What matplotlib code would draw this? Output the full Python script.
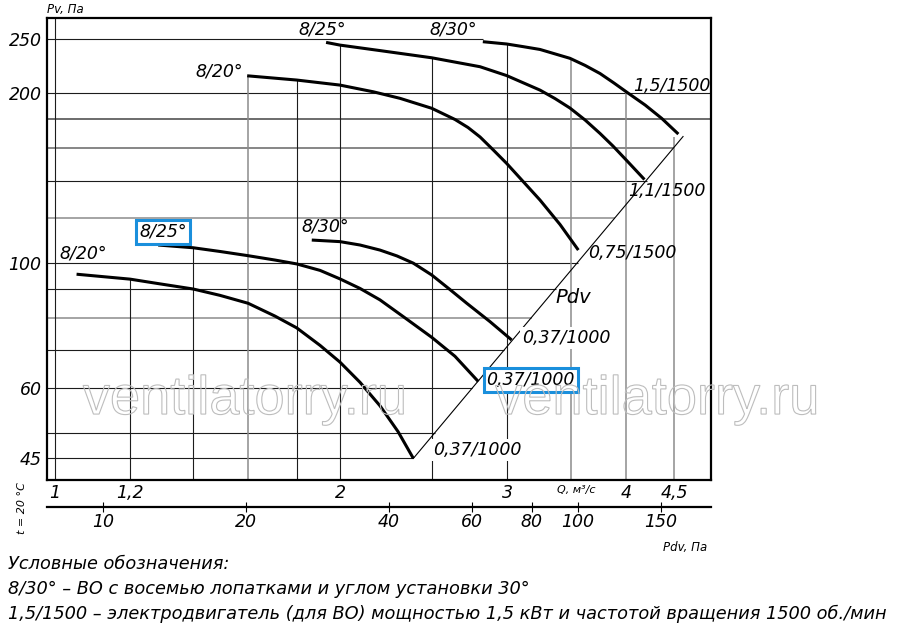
import matplotlib
matplotlib.use('Agg')
import matplotlib.pyplot as plt
import matplotlib.ticker as mticker
import matplotlib.patheffects as pe
import numpy as np

plt.rcParams['font.family'] = ['DejaVu Sans']
plt.rcParams['font.style'] = 'italic'

# ---------------- data (Q in m3/s, Pv in Pa) ----------------
q_820_low = [1.054, 1.200, 1.291, 1.399, 1.493, 1.599, 1.706, 1.799, 1.904, 1.998, 2.098, 2.202, 2.301, 2.388]
p_820_low = [95.5, 93.6, 91.8, 89.9, 87.6, 84.8, 80.5, 76.7, 71.4, 66.7, 61.4, 55.8, 50.2, 45.0]

q_825_low = [1.285, 1.399, 1.493, 1.599, 1.706, 1.799, 1.904, 1.998, 2.098, 2.202, 2.340, 2.497, 2.642, 2.796]
p_825_low = [107.6, 106.4, 104.8, 103.0, 101.2, 99.6, 97.0, 93.7, 90.1, 86.0, 79.9, 73.8, 68.3, 61.6]

q_830_low = [1.866, 1.998, 2.098, 2.202, 2.295, 2.388, 2.497, 2.610, 2.719, 2.876, 3.032]
p_830_low = [109.8, 109.1, 107.6, 105.4, 102.9, 99.9, 95.2, 89.7, 84.8, 78.7, 73.0]

q_820_hi = [1.595, 1.799, 1.998, 2.167, 2.312, 2.497, 2.642, 2.727, 2.808, 2.897, 2.995, 3.248, 3.410, 3.565]
p_820_hi = [214.8, 211.1, 206.8, 201.2, 195.9, 188.1, 179.7, 173.9, 167.3, 158.9, 150.2, 129.3, 117.0, 105.4]

q_825_hi = [1.932, 1.998, 2.202, 2.497, 2.808, 2.995, 3.248, 3.369, 3.493, 3.624, 3.758, 3.878, 4.010, 4.186]
p_825_hi = [246.2, 243.5, 238.1, 231.2, 222.9, 215.0, 202.6, 195.7, 188.3, 179.3, 169.7, 161.2, 151.9, 140.6]

q_830_hi = [2.827, 2.995, 3.116, 3.248, 3.493, 3.624, 3.758, 3.888, 4.025, 4.193, 4.365, 4.545]
p_830_hi = [246.9, 244.6, 242.0, 239.2, 230.7, 224.1, 216.8, 208.5, 200.0, 190.6, 180.5, 169.3]

angle_labels = ['8/20°', '8/25°', '8/30°', '8/20°', '8/25°', '8/30°']
motor_labels = ['0,37/1000', '0,37/1000', '0,37/1000', '0,75/1500', '1,1/1500', '1,5/1500']

# dynamic pressure line Pdv
pdv_q = [2.388, 4.597]
pdv_p = [45.0, 167.6]
K_PDV = 7.9  # Pdv = K * Q^2 (scale of the lower Pdv axis)

q_ticks = [1, 1.2, 2, 3, 4, 4.5]
q_tick_labels = ['1', '1,2', '2', '3', '4', '4,5']
p_ticks = [45, 60, 100, 200, 250]
p_tick_labels = ['45', '60', '100', '200', '250']
pdv_ticks = [10, 20, 40, 60, 80, 100, 150]
pdv_tick_labels = ['10', '20', '40', '60', '80', '100', '150']

# ---------------- figure ----------------
W, H = 900, 638
fig = plt.figure(figsize=(W / 100, H / 100), dpi=100)
ax = fig.add_axes([47 / W, 1 - 480 / H, 664 / W, 462 / H])
ax.set_xscale('log')
ax.set_yscale('log')
XLO, XHI = 0.981, 4.92
YLO, YHI = 41.2, 272.0
ax.set_xlim(XLO, XHI)
ax.set_ylim(YLO, YHI)

DARK = '#1c1c1c'
GRAY = '#8c8c8c'

# horizontal grid lines: value, right end (Q), colour
h_vals = [250, 200, 180, 160, 140, 120, 100, 90, 80, 70, 60, 50, 45]
h_ends = [q_830_hi[0], XHI, XHI] + [np.sqrt(v / K_PDV) for v in h_vals[3:]]
h_cols = [DARK, DARK, '#444444', '#666666', DARK, GRAY, DARK, DARK, GRAY, DARK, DARK, DARK, DARK]
h_lws = [0.8 if c == DARK else 1.1 for c in h_cols]
ax.hlines(h_vals, XLO, h_ends, colors=h_cols, linewidths=h_lws, zorder=1)

# vertical grid lines: value, top end (Pv), colour
v_vals = [1.0, 1.2, 1.4, 1.6, 1.8, 2.0, 2.5, 3.0, 3.5, 4.0, 4.5]
v_tops = [YHI, 93.6, 106.4, 214.8, 211.1, 243.5, 231.2, 244.6, 230.7, 202.0, 167.0]
v_cols = [DARK, DARK, DARK, GRAY, DARK, DARK, DARK, DARK, GRAY, GRAY, GRAY]
v_lws = [0.8 if c == DARK else 1.1 for c in v_cols]
ax.vlines(v_vals, YLO, v_tops, colors=v_cols, linewidths=v_lws, zorder=1)

# Pdv line
ax.plot(pdv_q, pdv_p, color='black', lw=0.8, zorder=2)
ax.text(3.519, 86.7, 'Pdv', fontsize=14, ha='center', va='center', zorder=3)

# curves
curves = [(q_820_low, p_820_low), (q_825_low, p_825_low), (q_830_low, p_830_low),
          (q_820_hi, p_820_hi), (q_825_hi, p_825_hi), (q_830_hi, p_830_hi)]
for q, p in curves:
    ax.plot(q, p, color='black', lw=2.2, solid_capstyle='butt', solid_joinstyle='round', zorder=4)

BLUE = '#1a8fdc'
start_offsets = [(5, 15), (3.6, 9.4), (10, 10), (-20, 3), (-3, 9), (-21.6, 8.6)]
end_offsets = [(14, 6), (6, 1.3), (7.5, 1.5), (7, -2), (-11.5, -8.3), (-32.5, 34.6)]
for i, (q, p) in enumerate(curves):
    bb = None
    if i == 1:
        bb = dict(boxstyle='square,pad=0.18', fc='white', ec=BLUE, lw=2.2)
    ax.annotate(angle_labels[i], (q[0], p[0]), xytext=start_offsets[i],
                textcoords='offset points', ha='center', va='center',
                fontsize=12.5, bbox=bb, zorder=5)
    if i == 1:
        bb = dict(boxstyle='square,pad=0.18', fc='white', ec=BLUE, lw=2.2)
    elif i in (0, 2):
        bb = dict(boxstyle='square,pad=0.12', fc='white', ec='none')
    else:
        bb = None
    ax.annotate(motor_labels[i], (q[-1], p[-1]), xytext=end_offsets[i],
                textcoords='offset points', ha='left', va='center',
                fontsize=12.5, bbox=bb, zorder=5)

# axes styling
for s in ax.spines.values():
    s.set_linewidth(1.6)
ax.xaxis.set_minor_locator(mticker.NullLocator())
ax.yaxis.set_minor_locator(mticker.NullLocator())
ax.set_xticks(q_ticks, q_tick_labels, fontsize=12.5)
ax.set_yticks(p_ticks, p_tick_labels, fontsize=12.5)
ax.tick_params(axis='both', length=0)
ax.tick_params(axis='x', pad=3)
ax.tick_params(axis='y', pad=4)

# secondary Pdv axis
sec = ax.secondary_xaxis(-27 / 462, functions=(lambda q: K_PDV * np.asarray(q) ** 2,
                                               lambda p: np.sqrt(np.asarray(p) / K_PDV)))
sec.xaxis.set_minor_locator(mticker.NullLocator())
sec.set_xticks(pdv_ticks, pdv_tick_labels, fontsize=12.5)
sec.xaxis.set_minor_locator(mticker.NullLocator())
sec.tick_params(axis='x', direction='inout', length=7, width=0.8, pad=1)
sec.spines['bottom'].set_linewidth(1.6)

# watermarks
for xf in (0.298, 0.919):
    ax.text(xf, 0.173, 'ventilatorry.ru', transform=ax.transAxes, fontsize=39,
            fontstyle='normal', family='Liberation Sans', ha='center', va='center',
            path_effects=[pe.PathPatchEffect(edgecolor='#bdbdbd', facecolor='none', linewidth=0.8)],
            zorder=6, clip_on=False)

# extra labels
def ftext(x, y, s, **kw):
    fig.text(x / W, 1 - y / H, s, **kw)

ftext(47, 9, 'Pv, Па', fontsize=8.5, ha='left', va='center')
ftext(22, 508, 't = 20 °C', fontsize=8, rotation=90, ha='center', va='center')
ftext(576, 490, 'Q, м³/с', fontsize=8, ha='center', va='center')
ftext(707, 547, 'Pdv, Па', fontsize=8.5, ha='right', va='center')

ftext(8, 564, 'Условные обозначения:', fontsize=12.8, ha='left', va='center')
ftext(8, 589, '8/30° – ВО с восемью лопатками и углом установки 30°', fontsize=12.8, ha='left', va='center')
ftext(8, 614, '1,5/1500 – электродвигатель (для ВО) мощностью 1,5 кВт и частотой вращения 1500 об./мин',
      fontsize=12.8, ha='left', va='center')

fig.savefig('out.png', dpi=100)
